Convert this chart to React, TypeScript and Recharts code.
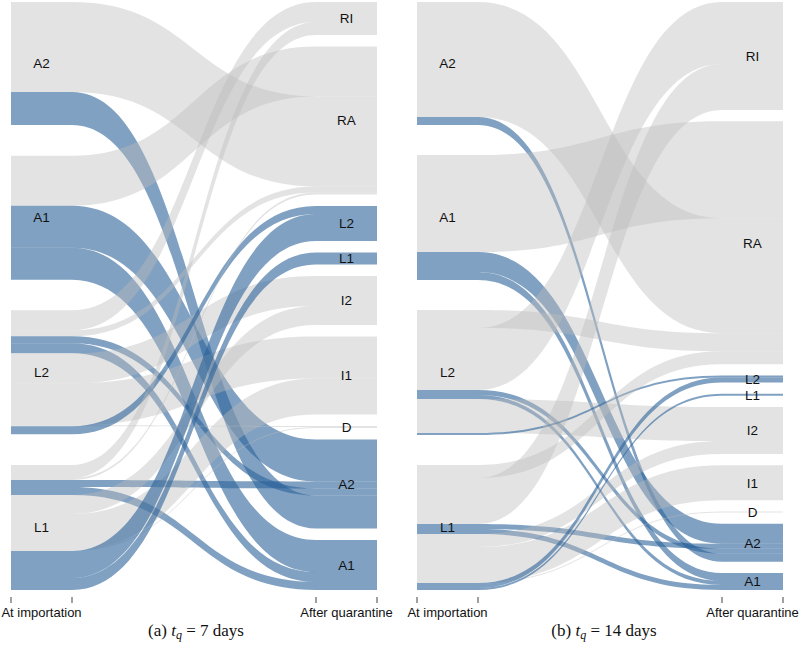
import React from 'react';
import { ComposedChart, Area, XAxis, YAxis, ReferenceDot } from 'recharts';

// Strata (top to bottom)
const leftNodes = ['A2', 'A1', 'L2', 'L1'];
const rightNodes = ['RI', 'RA', 'L2', 'L1', 'I2', 'I1', 'D', 'A2', 'A1'];
const blueNodes = ['L2', 'L1', 'A2', 'A1'];

// Axis ticks and labels
const axisTicks = [0, 0.5, 1, 5, 5.5, 6];
const axisLabels: Record<string, string> = { '0.5': 'At importation', '5.5': 'After quarantine' };

// Panel (a) t_q = 7 days : flows [from, to, size] in order within each source stratum
const flowsA: [string, string, number][] = [
  ['A2', 'RA', 90], ['A2', 'A2', 33],
  ['A1', 'RA', 50], ['A1', 'A2', 42], ['A1', 'A1', 32],
  ['L2', 'RI', 20], ['L2', 'RA', 6], ['L2', 'A2', 7], ['L2', 'A1', 10], ['L2', 'I2', 30], ['L2', 'I1', 42], ['L2', 'D', 1], ['L2', 'L2', 8],
  ['L1', 'RI', 13], ['L1', 'RA', 2], ['L1', 'A2', 7], ['L1', 'A1', 8], ['L1', 'I2', 19], ['L1', 'I1', 36], ['L1', 'D', 1], ['L1', 'L2', 27], ['L1', 'L1', 12],
];
// order of incoming flows inside each target stratum
const targetOrderA: Record<string, string[]> = {
  RI: ['L2', 'L1'], RA: ['A1', 'A2', 'L2', 'L1'], L2: ['L2', 'L1'], L1: ['L1'],
  I2: ['L2', 'L1'], I1: ['L2', 'L1'], D: ['L2', 'L1'], A2: ['A1', 'L1', 'L2', 'A2'], A1: ['A1', 'L2', 'L1'],
};

// Panel (b) t_q = 14 days
const flowsB: [string, string, number][] = [
  ['A2', 'RA', 115], ['A2', 'A2', 8],
  ['A1', 'RA', 97], ['A1', 'A2', 20], ['A1', 'A1', 8],
  ['L2', 'RA', 18], ['L2', 'RI', 62], ['L2', 'A2', 5], ['L2', 'A1', 4], ['L2', 'I2', 34], ['L2', 'L2', 2],
  ['L1', 'RA', 13], ['L1', 'RI', 46], ['L1', 'A2', 5], ['L1', 'A1', 5], ['L1', 'I2', 13], ['L1', 'I1', 35], ['L1', 'D', 1], ['L1', 'L2', 5], ['L1', 'L1', 2],
];
const targetOrderB: Record<string, string[]> = {
  RI: ['L2', 'L1'], RA: ['A1', 'A2', 'L2', 'L1'], L2: ['L2', 'L1'], L1: ['L1'],
  I2: ['L2', 'L1'], I1: ['L1'], D: ['L1'], A2: ['A1', 'L1', 'L2', 'A2'], A1: ['A1', 'L2', 'L1'],
};

const SPAN = 588; // y-domain including gaps
const BLUE = '#2c6399';
const GREY = '#bdbdbd';

function buildLayout(flows: [string, string, number][], targetOrder: Record<string, string[]>) {
  const total = flows.reduce((s, f) => s + f[2], 0);
  const leftGap = (SPAN - total) / (leftNodes.length - 1);
  const rightGap = (SPAN - total) / (rightNodes.length - 1);
  const leftStart: Record<string, number> = {};
  const leftCenter: Record<string, number> = {};
  let y = 0;
  leftNodes.forEach((n) => {
    const size = flows.filter((f) => f[0] === n).reduce((s, f) => s + f[2], 0);
    leftStart[n] = y;
    leftCenter[n] = y + size / 2;
    y += size + leftGap;
  });
  const rightStart: Record<string, number> = {};
  const rightCenter: Record<string, number> = {};
  y = 0;
  rightNodes.forEach((n) => {
    const size = flows.filter((f) => f[1] === n).reduce((s, f) => s + f[2], 0);
    rightStart[n] = y;
    rightCenter[n] = y + size / 2;
    y += size + rightGap;
  });
  const srcCursor: Record<string, number> = { ...leftStart };
  const src = flows.map((f) => {
    const a = srcCursor[f[0]];
    srcCursor[f[0]] += f[2];
    return [a, a + f[2]];
  });
  const tgt: number[][] = flows.map(() => [0, 0]);
  rightNodes.forEach((n) => {
    let c = rightStart[n];
    (targetOrder[n] || []).forEach((s) => {
      flows.forEach((f, i) => {
        if (f[0] === s && f[1] === n) {
          tgt[i] = [c, c + f[2]];
          c += f[2];
        }
      });
    });
  });
  const rows = [0, 1, 5, 6].map((x) => {
    const r: any = { x };
    flows.forEach((f, i) => {
      r['f' + i] = x < 3 ? src[i] : tgt[i];
    });
    return r;
  });
  return { rows, leftCenter, rightCenter };
}

const AxisTick = (props: any) => {
  const { x, y, payload } = props;
  const v = payload.value;
  if (Number.isInteger(v)) {
    return <line x1={x} x2={x} y1={y + 7} y2={y + 13} stroke="#444" strokeWidth={1} />;
  }
  return (
    <text x={x} y={y + 27} textAnchor="middle" fontSize={13} fill="#111">
      {axisLabels[String(v)]}
    </text>
  );
};

function Panel({ flows, order, width, marginLeft, marginRight }: any) {
  const { rows, leftCenter, rightCenter } = buildLayout(flows, order);
  return (
    <ComposedChart
      width={width}
      height={622}
      data={rows}
      margin={{ top: 2, right: marginRight, bottom: 0, left: marginLeft }}
      style={{ fontFamily: '"Liberation Sans", Arial, sans-serif', overflow: 'visible' }}
    >
      <XAxis
        type="number"
        dataKey="x"
        domain={[0, 6]}
        allowDataOverflow
        ticks={axisTicks}
        interval={0}
        tickLine={false}
        axisLine={false}
        tickSize={0}
        tickMargin={0}
        height={32}
        tick={<AxisTick />}
      />
      <YAxis type="number" domain={[0, SPAN]} allowDataOverflow reversed hide />
      {flows.map((f: [string, string, number], i: number) => {
        const blue = blueNodes.includes(f[1]);
        return (
          <Area
            key={'f' + i}
            dataKey={'f' + i}
            type="bumpX"
            stroke="none"
            fill={blue ? BLUE : GREY}
            fillOpacity={blue ? 0.6 : 0.42}
            dot={false}
            activeDot={false}
            isAnimationActive={false}
          />
        );
      })}
      {leftNodes.map((n) => (
        <ReferenceDot
          key={'l' + n}
          x={0.5}
          y={leftCenter[n]}
          r={0}
          fill="none"
          stroke="none"
          label={{ value: n, position: 'center', fill: '#111', fontSize: 13.5 }}
        />
      ))}
      {rightNodes.map((n) => (
        <ReferenceDot
          key={'r' + n}
          x={5.5}
          y={rightCenter[n]}
          r={0}
          fill="none"
          stroke="none"
          label={{ value: n, position: 'center', fill: '#111', fontSize: 13.5 }}
        />
      ))}
    </ComposedChart>
  );
}

const Caption = ({ letter, days, center }: any) => (
  <div
    style={{
      position: 'absolute',
      top: 621,
      left: center - 120,
      width: 240,
      textAlign: 'center',
      fontFamily: '"Liberation Serif", "Times New Roman", serif',
      fontSize: 17,
      lineHeight: '20px',
      color: '#111',
    }}
  >
    ({letter}) <i>t</i>
    <i style={{ fontSize: 12, position: 'relative', top: 3 }}>q</i> = {days} days
  </div>
);

export default function App() {
  return (
    <div style={{ position: 'absolute', left: 0, top: 0, width: 800, height: 646, background: '#fff' }}>
      <div style={{ position: 'absolute', left: 0, top: 0 }}>
        <Panel flows={flowsA} order={targetOrderA} width={400} marginLeft={11} marginRight={23} />
      </div>
      <div style={{ position: 'absolute', left: 400, top: 0 }}>
        <Panel flows={flowsB} order={targetOrderB} width={400} marginLeft={17} marginRight={17} />
      </div>
      <Caption letter="a" days={7} center={196} />
      <Caption letter="b" days={14} center={604} />
    </div>
  );
}
